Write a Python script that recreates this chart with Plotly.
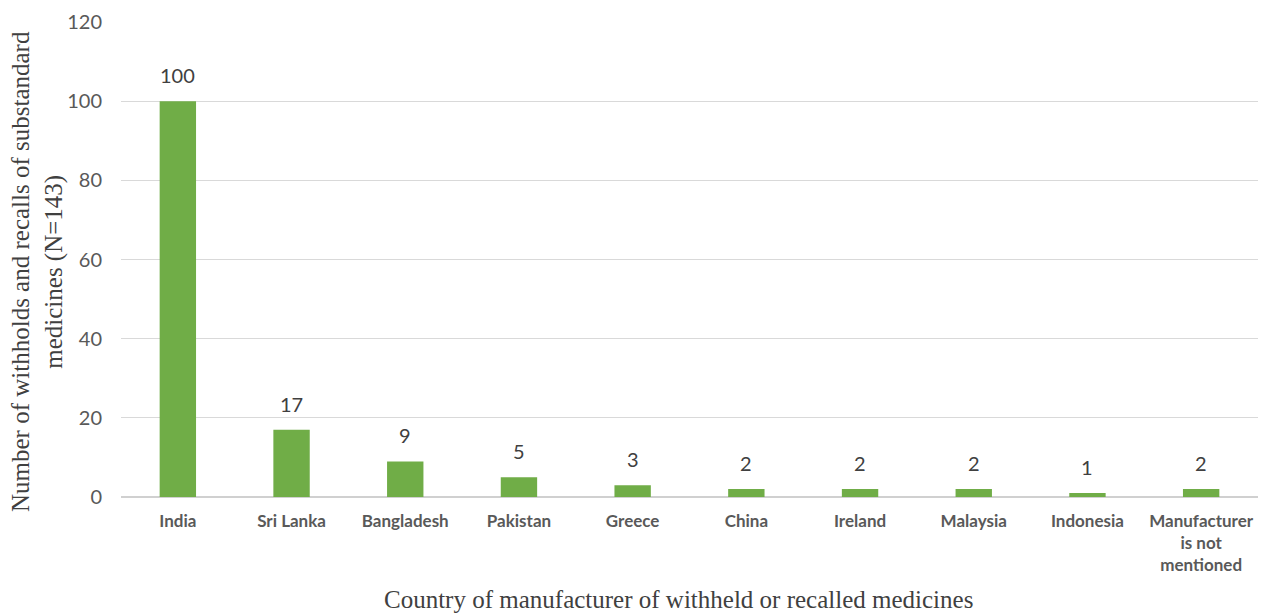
import plotly.graph_objects as go

countries = ["India", "Sri Lanka", "Bangladesh", "Pakistan", "Greece", "China",
             "Ireland", "Malaysia", "Indonesia", "Manufacturer<br>is not<br>mentioned"]
counts = [100, 17, 9, 5, 3, 2, 2, 2, 1, 2]
y_ticks = [0, 20, 40, 60, 80, 100, 120]

SANS = "Lato, Open Sans, sans-serif"
SERIF = "Liberation Serif"

fig = go.Figure(go.Bar(
    x=countries,
    y=counts,
    marker=dict(color="#70ad47", line=dict(width=0)),
))

# value labels above each bar
value_labels = [
    dict(x=c, y=v, text=str(v), xref="x", yref="y", showarrow=False,
         yanchor="bottom", yshift=12,
         font=dict(family=SANS, size=20, color="#404040"))
    for c, v in zip(countries, counts)
]

fig.update_layout(
    width=1261, height=613,
    margin=dict(l=121, r=3, t=22, b=116),
    plot_bgcolor="white", paper_bgcolor="white",
    bargap=0.68,
    showlegend=False,
    xaxis=dict(
        tickfont=dict(family=SANS, size=17, color="#595959", weight="bold"),
        showgrid=False, showline=False, ticks="",
        ticklabelstandoff=12,
    ),
    yaxis=dict(
        range=[0, 120], tickvals=y_ticks,
        tickfont=dict(family=SANS, size=20, color="#595959"),
        showgrid=True, gridcolor="#d9d9d9", gridwidth=1,
        zeroline=True, zerolinecolor="#d0d0d0", zerolinewidth=1.5,
        showline=False, ticks="", ticklabelstandoff=18,
    ),
    annotations=value_labels + [
        dict(text="Number of withholds and recalls of substandard<br>medicines (N=143)",
             xref="paper", yref="paper", x=(37 - 121) / 1137, y=(497 - 272) / 475,
             xanchor="center", yanchor="middle", textangle=-90, showarrow=False,
             font=dict(family=SERIF, size=25, color="#404040")),
        dict(text="Country of manufacturer of withheld or recalled medicines",
             xref="paper", yref="paper", x=(678 - 121) / 1137, y=(497 - 599) / 475,
             xanchor="center", yanchor="middle", showarrow=False,
             font=dict(family=SERIF, size=25, color="#404040")),
    ],
)

fig.write_html("out.html")
